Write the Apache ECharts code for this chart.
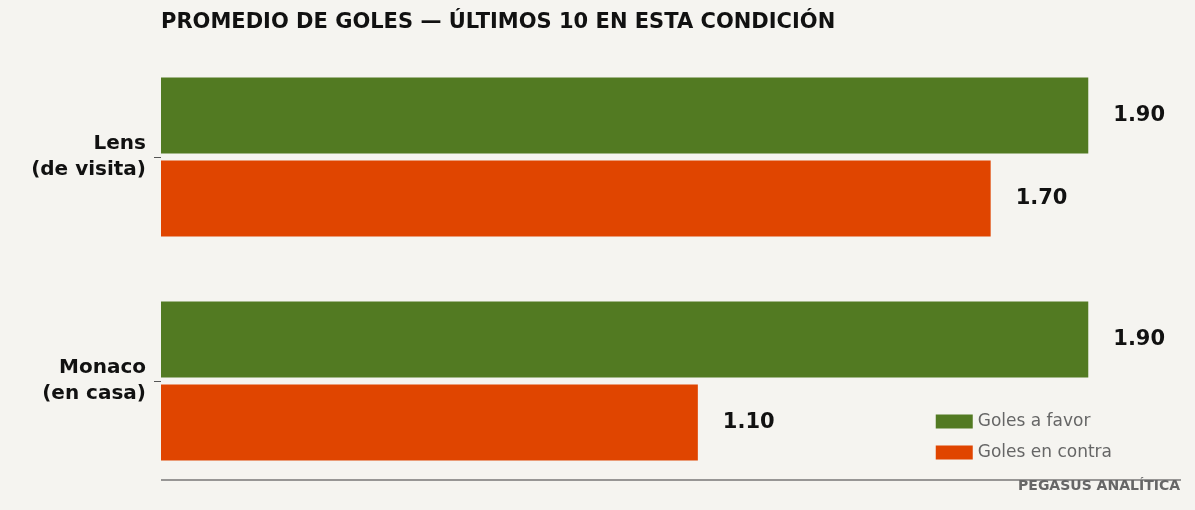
<!DOCTYPE html>
<html><head><meta charset="utf-8">
<script src="https://cdn.jsdelivr.net/npm/echarts@6/dist/echarts.min.js"></script>
<style>html,body{margin:0;background:#f5f4f0;}#c{width:1195px;height:510px;}</style>
</head><body><div id="c"></div>
<script>
const categories = ['Lens\n(de visita)', 'Monaco\n(en casa)'];
const golesFavor = [1.90, 1.90];
const golesContra = [1.70, 1.10];
const chart = echarts.init(document.getElementById('c'));
const lbl = {show:true, position:'right', distance:25, formatter:p=>p.value.toFixed(2), fontSize:21, fontWeight:'bold', color:'#111', fontFamily:'DejaVu Sans'};
chart.setOption({
  backgroundColor:'#f5f4f0',
  textStyle:{fontFamily:'DejaVu Sans'},
  title:{text:'PROMEDIO DE GOLES — ÚLTIMOS 10 EN ESTA CONDICIÓN', left:161, top:12, padding:0,
    textStyle:{fontSize:21, fontWeight:'bold', color:'#111', fontFamily:'DejaVu Sans'}},
  legend:{orient:'vertical', right:78, bottom:44, itemWidth:37, itemHeight:14, itemGap:14,
    textStyle:{fontSize:17, color:'#666', fontFamily:'DejaVu Sans'}, icon:'rect'},
  grid:{left:161, right:14, top:45, bottom:17},
  xAxis:{type:'value', min:0, max:2.09, show:false},
  yAxis:{type:'category', data:categories, inverse:true,
    axisLine:{show:false}, axisTick:{show:true, length:7, alignWithLabel:true, lineStyle:{color:'#555'}},
    axisLabel:{fontSize:20, fontWeight:'bold', color:'#111', lineHeight:26, margin:15, fontFamily:'DejaVu Sans'}},
  graphic:[
    {type:'line', shape:{x1:161,y1:480,x2:1181,y2:480}, style:{stroke:'#777', lineWidth:1.5}},
    {type:'text', right:15, top:479, style:{text:'PEGASUS ANALÍTICA', fontSize:14, fontWeight:'bold', fill:'#666', fontFamily:'DejaVu Sans'}}
  ],
  series:[
    {name:'Goles a favor', type:'bar', data:golesFavor, barWidth:76, barGap:'9%', itemStyle:{color:'#527a22'}, label:lbl},
    {name:'Goles en contra', type:'bar', data:golesContra, barWidth:76, itemStyle:{color:'#e04500'}, label:lbl}
  ]
});
</script></body></html>
